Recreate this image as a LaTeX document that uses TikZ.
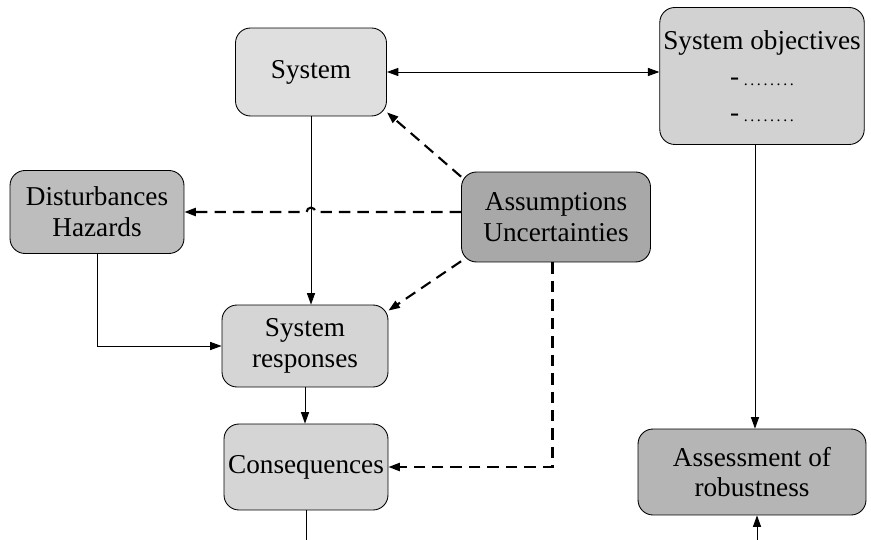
\documentclass[tikz,border=0pt]{standalone}
\usepackage{fontspec}
\setmainfont{Liberation Serif}
\usepackage{tikz}
\usetikzlibrary{arrows.meta,positioning,calc}

\begin{document}
\begin{tikzpicture}[
        x=0.02cm, y=-0.02cm, % pixel-like units
        box/.style={rectangle, draw, line width=0.5pt, rounded corners=0.3cm, align=center, inner sep=2pt, font=\fontsize{15.5}{17.5}\selectfont},
        arrow/.style={->, >={Triangle[length=6.5pt, width=4.6pt]}, line width=0.5pt},
        dasharrow/.style={->, >={Triangle[length=6.5pt, width=4.6pt]}, line width=1.2pt, dash pattern=on 6.5pt off 4pt}
    ]
    \useasboundingbox (0,0) rectangle (871,540);

    % nodes
    \node (sys)  [box, fill=gray!25, minimum width=3.02cm, minimum height=1.76cm] at (311,72) {System};
    \node (obj)  [box, fill=gray!35, minimum width=4.06cm, minimum height=2.74cm] at (762,76) {System objectives\\[3pt] -\,{\small.\,.\,.\,.\,.\,.\,.\,.}\\[3pt] -\,{\small.\,.\,.\,.\,.\,.\,.\,.}};
    \node (dist) [box, fill=gray!52, minimum width=3.48cm, minimum height=1.66cm] at (97,212) {Disturbances\\Hazards};
    \node (ass)  [box, fill=gray!68, minimum width=3.78cm, minimum height=1.80cm] at (556,217) {Assumptions\\Uncertainties};
    \node (resp) [box, fill=gray!33, minimum width=3.32cm, minimum height=1.64cm] at (305,346) {System\\responses};
    \node (cons) [box, fill=gray!33, minimum width=3.28cm, minimum height=1.72cm] at (306,467) {Consequences};
    \node (rob)  [box, fill=gray!58, minimum width=4.56cm, minimum height=1.72cm] at (752,472) {Assessment of\\robustness};

    % free ends at the lower edge
    \coordinate (consout) at (306,540);
    \coordinate (robin) at (757,540);
    \coordinate (hop) at ($(sys.south |- dist.east)$);

    % solid connectors
    \draw[arrow, <->] (sys.east) -- (sys.east -| obj.west);
    \draw[arrow] ([xshift=-4]obj.south) -- ([xshift=-4]obj.south |- rob.north);
    \draw[arrow] (robin) -- (robin |- rob.south);
    \draw[arrow] (sys.south) -- (sys.south |- resp.north);
    \draw[arrow] (dist.south) |- (resp.west);
    \draw[arrow] (resp.south) -- (resp.south |- cons.north);
    \draw[line width=0.5pt] (cons.south) -- (consout);

    % dashed connectors from assumptions
    \draw[dasharrow] (ass.157) -- (sys.-28);
    \draw[dasharrow] (ass.west |- dist.east) -- ([xshift=2.5pt]hop) arc[start angle=0, end angle=180, radius=2.5pt] -- (dist.east);
    \draw[dasharrow] (ass.205) -- (resp.23);
    \draw[dasharrow] ([xshift=-2pt]ass.south) |- (cons.east);

\end{tikzpicture}
\end{document}
